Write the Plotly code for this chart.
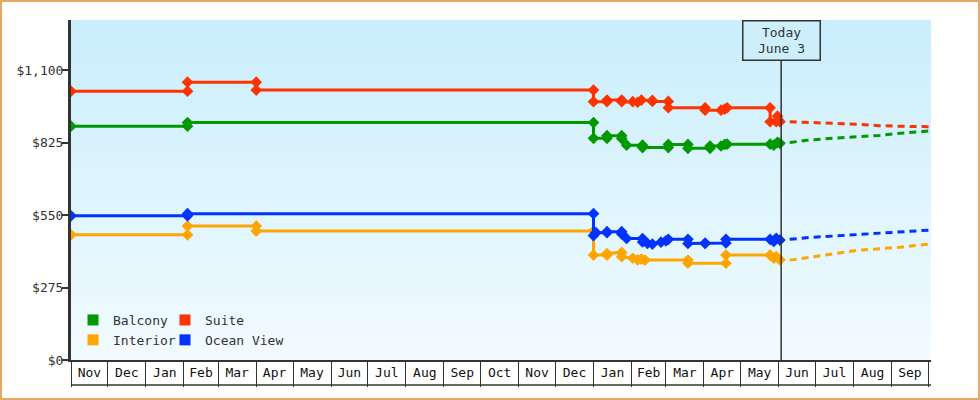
import plotly.graph_objects as go

# price history (step changes appear as two points on the same date)
suite_dates = ["2012-11-01", "2013-02-04", "2013-02-04", "2013-04-01", "2013-04-01",
               "2014-01-01", "2014-01-01", "2014-01-12", "2014-01-12", "2014-01-24",
               "2014-01-24", "2014-02-02", "2014-02-06", "2014-02-09", "2014-02-18",
               "2014-02-18", "2014-03-03", "2014-03-03", "2014-04-02", "2014-04-02",
               "2014-04-15", "2014-04-18", "2014-04-20", "2014-05-25", "2014-05-25",
               "2014-05-30", "2014-05-31", "2014-06-01", "2014-06-02"]
suite_prices = [1020, 1020, 1054, 1054, 1024,
                1024, 980, 980, 986, 986,
                980, 980, 978, 986, 985,
                981, 981, 957, 957, 948,
                948, 952, 957, 957, 904,
                904, 925, 910, 904]

balcony_dates = ["2012-11-01", "2013-02-04", "2013-02-04", "2014-01-01", "2014-01-01",
                 "2014-01-12", "2014-01-12", "2014-01-24", "2014-01-24", "2014-01-28",
                 "2014-02-10", "2014-02-10", "2014-03-03", "2014-03-03", "2014-03-19",
                 "2014-03-19", "2014-04-06", "2014-04-06", "2014-04-15", "2014-04-18",
                 "2014-04-20", "2014-05-25", "2014-05-28", "2014-05-31", "2014-06-02"]
balcony_prices = [887, 887, 901, 901, 841,
                  841, 851, 851, 840, 815,
                  815, 806, 806, 818, 818,
                  803, 803, 812, 812, 818,
                  819, 819, 815, 826, 822]

ocean_dates = ["2012-11-01", "2013-02-04", "2013-02-04", "2014-01-01", "2014-01-01",
               "2014-01-03", "2014-01-12", "2014-01-12", "2014-01-24", "2014-01-24",
               "2014-01-28", "2014-02-10", "2014-02-10", "2014-02-14", "2014-02-18",
               "2014-02-25", "2014-03-01", "2014-03-03", "2014-03-19", "2014-03-19",
               "2014-04-02", "2014-04-02", "2014-04-19", "2014-04-19", "2014-05-25",
               "2014-05-28", "2014-05-30", "2014-06-02"]
ocean_prices = [547, 547, 555, 555, 472,
                483, 483, 487, 487, 478,
                461, 461, 448, 442, 440,
                447, 452, 458, 458, 442,
                442, 444, 444, 458, 458,
                450, 462, 455]

interior_dates = ["2012-11-01", "2013-02-04", "2013-02-04", "2013-04-01", "2013-04-01",
                  "2014-01-01", "2014-01-01", "2014-01-12", "2014-01-12", "2014-01-24",
                  "2014-01-24", "2014-02-02", "2014-02-06", "2014-02-09", "2014-02-12",
                  "2014-03-19", "2014-03-19", "2014-04-19", "2014-04-19", "2014-05-25",
                  "2014-05-28", "2014-05-30", "2014-06-02"]
interior_prices = [475, 475, 508, 508, 489,
                   489, 398, 398, 404, 408,
                   392, 386, 380, 383, 379,
                   379, 367, 367, 398, 398,
                   386, 392, 380]

# forecast after today
forecast_dates = ["2014-06-10", "2014-06-26", "2014-07-15", "2014-08-06",
                  "2014-08-22", "2014-09-08", "2014-10-02"]
suite_forecast = [904, 902, 898, 894, 889, 887, 885]
balcony_forecast = [825, 835, 841, 847, 852, 860, 869]
ocean_forecast = [458, 465, 470, 477, 481, 485, 493]
interior_forecast = [379, 390, 402, 417, 422, 428, 440]

y_ticks = [0, 275, 550, 825, 1100]
y_labels = ["$0", "$275", "$550", "$825", "$1,100"]
today = "2014-06-03"

series = [
    ("Balcony", "#009900", balcony_dates, balcony_prices, balcony_forecast, "legend"),
    ("Suite", "#ff3300", suite_dates, suite_prices, suite_forecast, "legend2"),
    ("Interior", "#ffa500", interior_dates, interior_prices, interior_forecast, "legend"),
    ("Ocean View", "#0033ff", ocean_dates, ocean_prices, ocean_forecast, "legend2"),
]

FONT = "DejaVu Sans Mono"
INK = "#333333"

fig = go.Figure()

for name, color, dates, prices, forecast, leg in series:
    fig.add_trace(go.Scatter(x=dates, y=prices, mode="lines+markers", showlegend=False,
                             line=dict(color=color, width=3),
                             marker=dict(symbol="diamond", size=9, color=color),
                             name=name, hoverinfo="x+y"))
    fig.add_trace(go.Scatter(x=forecast_dates, y=forecast, mode="lines", showlegend=False,
                             line=dict(color=color, width=3, dash="7px,5px"),
                             name=name + " forecast"))

# legend swatches only
for name, color, dates, prices, forecast, leg in series:
    fig.add_trace(go.Scatter(x=[None], y=[None], mode="markers", name=name, legend=leg,
                             marker=dict(symbol="square", size=11, color=color)))

# background gradient, built from thin horizontal bands
shapes = []
top = (201, 238, 252)
bottom = (242, 251, 255)
nbands = 68
for i in range(nbands):
    t = i / (nbands - 1)
    c = tuple(round(top[k] + (bottom[k] - top[k]) * t) for k in range(3))
    shapes.append(dict(type="rect", xref="paper", yref="paper", layer="below",
                       x0=0, x1=1, y0=1 - (i + 1) / nbands, y1=1 - i / nbands,
                       line=dict(width=0), fillcolor="rgb(%d,%d,%d)" % c))

W, H = 980, 400
L, R, T, B = 71, 49, 20, 40
pw, ph = W - L - R, H - T - B

# outer border of the image
shapes.append(dict(type="rect", xref="paper", yref="paper",
                   x0=(1 - L) / pw, x1=(W - 1 - L) / pw,
                   y0=-(B - 1) / ph, y1=(ph + T - 1) / ph,
                   line=dict(color="#e8a864", width=2)))
# bottom line of the month boxes
shapes.append(dict(type="line", xref="paper", yref="paper", x0=0, x1=1,
                   y0=-25 / ph, y1=-25 / ph, line=dict(color=INK, width=1.5)))
# today marker line
shapes.append(dict(type="line", xref="x", yref="paper", x0=today, x1=today,
                   y0=0, y1=(ph - 40) / ph, line=dict(color=INK, width=1.5)))

fig.update_layout(
    width=W, height=H,
    margin=dict(l=L, r=R, t=T, b=B),
    paper_bgcolor="white",
    plot_bgcolor="#dff5fd",
    font=dict(family=FONT, size=13, color=INK),
    shapes=shapes,
    xaxis=dict(type="date", range=["2012-11-01", "2014-10-03 04:00"],
               dtick="M1", tick0="2012-11-01", tickformat="%b",
               ticklabelmode="period", ticks="outside", ticklen=25,
               tickwidth=1.2, tickcolor=INK, ticklabelstandoff=-26,
               showgrid=False, zeroline=False, showline=True,
               linecolor=INK, linewidth=2, fixedrange=True,
               tickfont=dict(family=FONT, size=13, color="#111")),
    yaxis=dict(range=[0, 1290], tickvals=y_ticks, ticktext=y_labels,
               ticks="outside", ticklen=6, tickwidth=2, tickcolor=INK,
               ticklabelstandoff=-4,
               showgrid=False, zeroline=False, showline=True,
               linecolor=INK, linewidth=3, fixedrange=True,
               tickfont=dict(family=FONT, size=13, color=INK)),
    legend=dict(x=(73 - L) / pw, y=(360 - 355) / ph, xanchor="left", yanchor="bottom",
                bgcolor="rgba(0,0,0,0)", itemwidth=30, tracegroupgap=0,
                font=dict(family=FONT, size=13, color=INK)),
    legend2=dict(x=(165 - L) / pw, y=(360 - 355) / ph, xanchor="left", yanchor="bottom",
                 bgcolor="rgba(0,0,0,0)", itemwidth=30, tracegroupgap=0,
                 font=dict(family=FONT, size=13, color=INK)),
    annotations=[dict(x=today, y=1, xref="x", yref="paper", xanchor="center",
                      yanchor="top", showarrow=False, text="Today<br>June 3",
                      width=72, height=34, bordercolor=INK, borderwidth=1.5,
                      borderpad=2, bgcolor="#cdeffc",
                      font=dict(family=FONT, size=13, color=INK))],
)

# the page body has a default margin; remove it so the chart sits at the window corner
fig.write_html("out.html", config={"displayModeBar": False},
               post_script="document.body.style.margin='0';")
